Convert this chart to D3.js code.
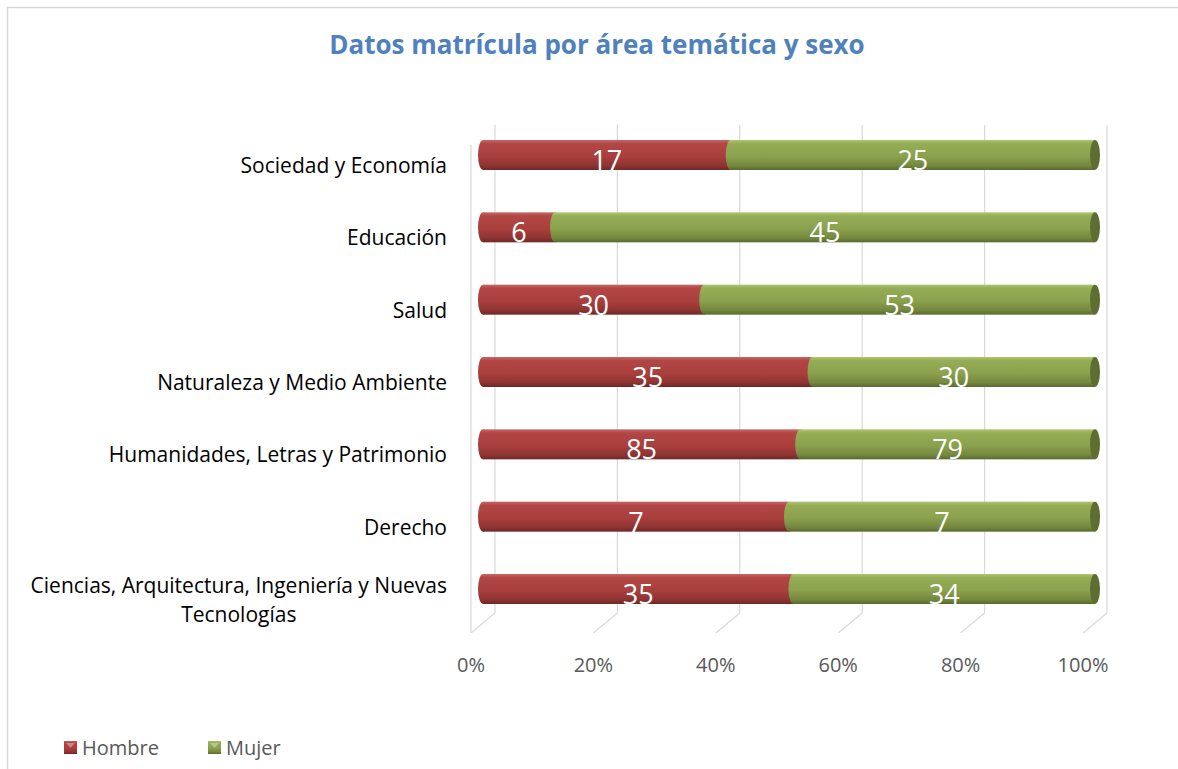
<!DOCTYPE html>
<html lang="es">
<head>
  <meta charset="UTF-8">
  <title>Datos matrícula por área temática y sexo</title>
  <script src="https://d3js.org/d3.v7.min.js"></script>
  <style type="text/css">
    body { margin: 0; background: #fff; }
    svg text { font-family: "Open Sans", "DejaVu Sans", sans-serif; }
  </style>
</head>
<body>
<svg id="grafico"></svg>

<script>
  // Datos (de arriba hacia abajo)
  const categorias = [
    "Sociedad y Economía",
    "Educación",
    "Salud",
    "Naturaleza y Medio Ambiente",
    "Humanidades, Letras y Patrimonio",
    "Derecho",
    "Ciencias, Arquitectura, Ingeniería y Nuevas|Tecnologías"
  ];
  const hombre = [17, 6, 30, 35, 85, 7, 35];
  const mujer  = [25, 45, 53, 30, 79, 7, 34];
  const series = ["Hombre", "Mujer"];
  const ticks = [0, 0.2, 0.4, 0.6, 0.8, 1];

  const ancho = 1178, alto = 769;
  const svg = d3.select("#grafico").attr("width", ancho).attr("height", alto);

  // Gradientes para dar el efecto de cilindro
  const defs = svg.append("defs");
  function gradiente(id, stops) {
    const g = defs.append("linearGradient").attr("id", id)
      .attr("x1", 0).attr("y1", 0).attr("x2", 0).attr("y2", 1);
    stops.forEach(s => g.append("stop").attr("offset", s[0]).attr("stop-color", s[1]));
  }
  gradiente("g-hombre", [[0, "#C66866"], [0.12, "#B24644"], [0.55, "#A93F3D"], [0.85, "#8E3432"], [1, "#6E2826"]]);
  gradiente("g-mujer", [[0, "#AFC56E"], [0.12, "#95AD57"], [0.55, "#8AA14D"], [0.85, "#74883E"], [1, "#5A6A30"]]);
  const tapa = { Hombre: "#7F2F2D", Mujer: "#5E6E31" };
  const relleno = { Hombre: "url(#g-hombre)", Mujer: "url(#g-mujer)" };

  // Borde del gráfico
  svg.append("rect")
    .attr("x", 7.5).attr("y", 7.5)
    .attr("width", ancho).attr("height", alto)
    .attr("fill", "none").attr("stroke", "#D9D9D9").attr("stroke-width", 1.5);

  // Título
  svg.append("text")
    .attr("x", 597).attr("y", 54)
    .attr("text-anchor", "middle")
    .attr("font-size", 26).attr("font-weight", "bold")
    .attr("fill", "#4F81BD")
    .text("Datos matrícula por área temática y sexo");

  // Escalas
  const prof = { dx: 24, dy: -20 };          // desplazamiento de la pared del fondo
  const xFrente = d3.scaleLinear().domain([0, 1]).range([471, 1083]);
  const xBarra = d3.scaleLinear().domain([0, 1]).range([483, 1095]);
  const y = d3.scalePoint().domain(categorias).range([155, 589]);
  const altoBarra = 30;
  const suelo = 633;
  const techo = 125;

  // Rejilla 3D
  const rejilla = svg.append("g").attr("stroke", "#D9D9D9").attr("stroke-width", 1.2).attr("fill", "none");
  ticks.forEach(t => {
    const xf = xFrente(t), xb = xf + prof.dx;
    rejilla.append("line").attr("x1", xb).attr("x2", xb).attr("y1", techo).attr("y2", suelo + prof.dy);
    rejilla.append("line").attr("x1", xf).attr("x2", xb).attr("y1", suelo).attr("y2", suelo + prof.dy);
  });
  rejilla.append("line")
    .attr("x1", xFrente(0)).attr("x2", xFrente(0))
    .attr("y1", techo - prof.dy).attr("y2", suelo);

  // Etiquetas del eje X
  svg.append("g").selectAll("text")
    .data(ticks).enter().append("text")
    .attr("x", d => xFrente(d))
    .attr("y", 672)
    .attr("text-anchor", "middle")
    .attr("font-size", 20)
    .attr("fill", "#595959")
    .text(d => d3.format(".0%")(d));

  // Etiquetas de categoría
  const etiquetas = svg.append("g");
  categorias.forEach(c => {
    const lineas = c.split("|");
    const t = etiquetas.append("text")
      .attr("font-size", 21).attr("fill", "#000");
    const y0 = y(c) + 18 - (lineas.length - 1) * 14.5;
    lineas.forEach((l, i) => {
      t.append("tspan").attr("y", y0 + i * 29).text(l);
    });
    const tsp = t.selectAll("tspan").nodes();
    const anchoMax = d3.max(tsp, n => n.getComputedTextLength());
    const centro = 447 - anchoMax / 2;
    t.selectAll("tspan").attr("x", centro).attr("text-anchor", "middle");
  });

  // Datos apilados al 100%
  const filas = categorias.map((c, i) => ({ cat: c, Hombre: hombre[i], Mujer: mujer[i] }));
  const pila = d3.stack().keys(series).offset(d3.stackOffsetExpand)(filas);

  const barras = svg.append("g");
  pila.forEach((capa, k) => {
    const nombre = capa.key;
    const g = barras.append("g");
    capa.forEach(d => {
      const x0 = xBarra(d[0]), x1 = xBarra(d[1]);
      const yc = y(d.data.cat);
      g.append("rect")
        .attr("x", x0).attr("y", yc - altoBarra / 2)
        .attr("width", x1 - x0).attr("height", altoBarra)
        .attr("fill", relleno[nombre]);
      g.append("ellipse")
        .attr("cx", x0).attr("cy", yc)
        .attr("rx", 5).attr("ry", altoBarra / 2)
        .attr("fill", relleno[nombre]);
      if (k === pila.length - 1) {
        g.append("ellipse")
          .attr("cx", x1).attr("cy", yc)
          .attr("rx", 5).attr("ry", altoBarra / 2)
          .attr("fill", tapa[nombre]);
      }
    });
  });

  // Etiquetas de valor
  pila.forEach(capa => {
    svg.append("g").selectAll("text")
      .data(capa).enter().append("text")
      .attr("x", d => (xBarra(d[0]) + xBarra(d[1])) / 2)
      .attr("y", d => y(d.data.cat) + 15)
      .attr("text-anchor", "middle")
      .attr("font-size", 27)
      .attr("fill", "#fff")
      .text(d => d.data[capa.key]);
  });

  // Leyenda
  const leyenda = svg.append("g");
  const posLeyenda = [64, 208];
  series.forEach((s, i) => {
    const lx = posLeyenda[i];
    leyenda.append("rect")
      .attr("x", lx).attr("y", 741).attr("width", 13).attr("height", 13)
      .attr("fill", relleno[s]);
    leyenda.append("path")
      .attr("d", `M${lx + 2},${743} L${lx + 11},${743} L${lx + 6.5},${748} Z`)
      .attr("fill", "#fff").attr("opacity", 0.35);
    leyenda.append("text")
      .attr("x", lx + 18).attr("y", 755)
      .attr("font-size", 20).attr("fill", "#595959")
      .text(s);
  });
</script>
</body>
</html>
